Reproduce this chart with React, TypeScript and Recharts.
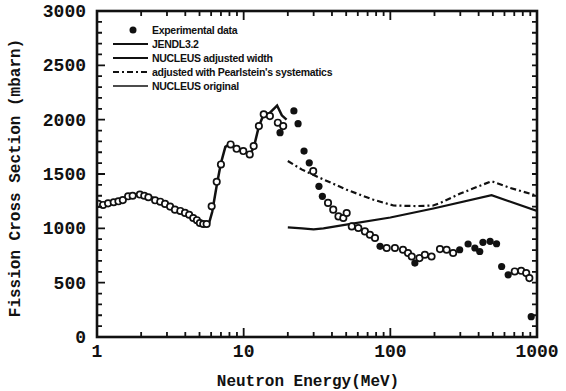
import {
  ComposedChart,
  Line,
  Scatter,
  XAxis,
  YAxis,
  Legend,
} from "recharts";

// Energies in MeV, cross sections in mbarn
const EXP_OPEN = [
  { e: 1.02, s: 1225 }, { e: 1.1, s: 1215 }, { e: 1.19, s: 1230 }, { e: 1.3, s: 1240 },
  { e: 1.4, s: 1249 }, { e: 1.5, s: 1260 }, { e: 1.63, s: 1295 }, { e: 1.75, s: 1300 },
  { e: 1.96, s: 1311 }, { e: 2.1, s: 1300 }, { e: 2.24, s: 1286 }, { e: 2.49, s: 1258 },
  { e: 2.7, s: 1245 }, { e: 2.91, s: 1225 }, { e: 3.15, s: 1200 }, { e: 3.4, s: 1172 },
  { e: 3.7, s: 1160 }, { e: 3.98, s: 1142 }, { e: 4.25, s: 1125 }, { e: 4.53, s: 1095 },
  { e: 4.8, s: 1075 }, { e: 5.03, s: 1049 }, { e: 5.3, s: 1040 }, { e: 5.59, s: 1040 },
  { e: 6.05, s: 1203 }, { e: 6.55, s: 1428 }, { e: 7.0, s: 1588 }, { e: 8.15, s: 1772 },
  { e: 8.95, s: 1732 }, { e: 9.94, s: 1711 }, { e: 11.0, s: 1680 }, { e: 11.7, s: 1757 },
  { e: 12.7, s: 1941 }, { e: 13.7, s: 2049 }, { e: 15.1, s: 2033 }, { e: 17.1, s: 1972 },
  { e: 18.6, s: 1941 }, { e: 29.8, s: 1526 }, { e: 37.6, s: 1234 }, { e: 40.8, s: 1172 },
  { e: 44.3, s: 1110 }, { e: 47.8, s: 1095 }, { e: 50.4, s: 1141 }, { e: 54.6, s: 1018 },
  { e: 60.5, s: 1003 }, { e: 67.1, s: 972 }, { e: 72.6, s: 941 }, { e: 78.6, s: 911 },
  { e: 94.4, s: 819 }, { e: 107.5, s: 819 }, { e: 122, s: 803 }, { e: 132, s: 773 },
  { e: 140, s: 741 }, { e: 158, s: 726 }, { e: 172, s: 757 }, { e: 191, s: 741 },
  { e: 218, s: 809 }, { e: 242, s: 803 }, { e: 268, s: 773 }, { e: 705, s: 603 },
  { e: 780, s: 609 }, { e: 844, s: 588 }, { e: 887, s: 542 },
];

const EXP_FILLED = [
  { e: 17.7, s: 1880 }, { e: 22.0, s: 2080 }, { e: 23.5, s: 1963 }, { e: 25.8, s: 1711 },
  { e: 28.0, s: 1603 }, { e: 32.6, s: 1387 }, { e: 34.4, s: 1295 }, { e: 85.1, s: 834 },
  { e: 147, s: 680 }, { e: 297, s: 803 }, { e: 339, s: 856 }, { e: 377, s: 819 },
  { e: 407, s: 787 }, { e: 428, s: 871 }, { e: 479, s: 880 }, { e: 530, s: 858 },
  { e: 574, s: 649 }, { e: 636, s: 572 }, { e: 913, s: 187 },
];

const JENDL = [
  { e: 1, s: 1215 }, { e: 1.2, s: 1235 }, { e: 1.5, s: 1265 }, { e: 1.9, s: 1310 },
  { e: 2.2, s: 1300 }, { e: 2.6, s: 1265 }, { e: 3, s: 1230 }, { e: 3.5, s: 1175 },
  { e: 4, s: 1145 }, { e: 4.6, s: 1100 }, { e: 5.1, s: 1050 }, { e: 5.4, s: 1035 },
  { e: 5.8, s: 1045 }, { e: 6.1, s: 1150 }, { e: 6.6, s: 1420 }, { e: 7, s: 1600 },
  { e: 7.5, s: 1750 }, { e: 8, s: 1775 }, { e: 9, s: 1740 }, { e: 10, s: 1710 },
  { e: 11, s: 1680 }, { e: 11.7, s: 1740 }, { e: 12.7, s: 1940 }, { e: 13.7, s: 2050 },
  { e: 15, s: 2060 }, { e: 16.9, s: 2130 }, { e: 18.2, s: 2040 }, { e: 19.6, s: 2000 },
];

const PEARLSTEIN = [
  { e: 20, s: 1620 }, { e: 25, s: 1540 }, { e: 30, s: 1490 }, { e: 35, s: 1450 },
  { e: 50, s: 1357 }, { e: 76, s: 1265 }, { e: 105, s: 1210 }, { e: 150, s: 1205 },
  { e: 196, s: 1210 }, { e: 220, s: 1235 }, { e: 300, s: 1320 }, { e: 490, s: 1434 },
  { e: 656, s: 1372 }, { e: 1000, s: 1300 },
];

const NUCLEUS = [
  { e: 20, s: 1009 }, { e: 25, s: 1000 }, { e: 30, s: 990 }, { e: 35, s: 1000 },
  { e: 50, s: 1034 }, { e: 100, s: 1100 }, { e: 200, s: 1185 }, { e: 490, s: 1305 },
  { e: 1000, s: 1160 },
];

const X_MAJOR = [1, 10, 100, 1000];
const X_TICKS = [
  1, 2, 3, 4, 5, 6, 7, 8, 9,
  10, 20, 30, 40, 50, 60, 70, 80, 90,
  100, 200, 300, 400, 500, 600, 700, 800, 900, 1000,
];
const Y_MAJOR = [0, 500, 1000, 1500, 2000, 2500, 3000];
const Y_TICKS = Array.from({ length: 31 }, (_, i) => i * 100);

const LEGEND_ITEMS = [
  { label: "Experimental data", kind: "dot" },
  { label: "JENDL3.2", kind: "solid" },
  { label: "NUCLEUS adjusted width", kind: "solid" },
  { label: "adjusted with Pearlstein's systematics", kind: "dashdot" },
  { label: "NUCLEUS original", kind: "thin" },
];

const MONO = "'Liberation Mono', 'DejaVu Sans Mono', monospace";
const INK = "#111";
const W = 566;
const H = 391;
const MARGIN = { top: 11, right: 29, bottom: 0, left: 0 };
const X_AXIS_H = 54;
const Y_AXIS_W = 97;

// plot box, same numbers the chart layout is built from
const PX0 = MARGIN.left + Y_AXIS_W;
const PX1 = W - MARGIN.right;
const PY0 = MARGIN.top;
const PY1 = H - MARGIN.bottom - X_AXIS_H;
const xPos = (v: number) => PX0 + ((PX1 - PX0) * Math.log10(v)) / 3;
const yPos = (v: number) => PY1 - ((PY1 - PY0) * v) / 3000;

function BottomTick(props: any) {
  const { x, y, payload } = props;
  if (!X_MAJOR.includes(payload.value)) return <g />;
  return (
    <text x={x} y={y + 20} textAnchor="middle" fontFamily={MONO} fontWeight="bold" fontSize={18} fill={INK}>
      {payload.value}
    </text>
  );
}

function LeftTick(props: any) {
  const { x, y, payload } = props;
  if (!Y_MAJOR.includes(payload.value)) return <g />;
  return (
    <text x={x - 11} y={y + 6} textAnchor="end" fontFamily={MONO} fontWeight="bold" fontSize={18} fill={INK}>
      {payload.value}
    </text>
  );
}

// box frame with inward tick marks on all four sides
function Frame() {
  let d = "";
  X_TICKS.forEach((v) => {
    const len = X_MAJOR.includes(v) ? 9 : 5;
    const x = xPos(v);
    d += `M${x},${PY1}V${PY1 - len}M${x},${PY0}V${PY0 + len}`;
  });
  Y_TICKS.forEach((v) => {
    const y = yPos(v);
    d += `M${PX0},${y}H${PX0 + (Y_MAJOR.includes(v) ? 8 : 5)}M${PX1},${y}H${PX1 - 5}`;
  });
  return (
    <svg width={W} height={H} style={{ position: "absolute", left: 0, top: 0, pointerEvents: "none" }}>
      <path d={d} stroke={INK} strokeWidth={1.8} fill="none" />
      <rect x={PX0} y={PY0} width={PX1 - PX0} height={PY1 - PY0} stroke={INK} strokeWidth={2.6} fill="none" />
    </svg>
  );
}

const openCircle = (p: any) => (
  <circle cx={p.cx} cy={p.cy} r={3.2} fill="#fff" stroke={INK} strokeWidth={1.7} />
);
const filledDot = (p: any) => <circle cx={p.cx} cy={p.cy} r={3.6} fill={INK} />;

function LegendBox() {
  return (
    <svg width={280} height={74}>
      {LEGEND_ITEMS.map((item, i) => {
        const y = 8 + i * 14;
        return (
          <g key={item.label}>
            {item.kind === "dot" ? (
              <circle cx={23} cy={y} r={3.5} fill={INK} />
            ) : (
              <path
                d={`M3,${y}H38`}
                stroke={INK}
                strokeWidth={item.kind === "thin" ? 1.6 : 2.2}
                strokeDasharray={item.kind === "dashdot" ? "6 3 2 3" : undefined}
              />
            )}
            <text
              x={42}
              y={y + 4}
              fontFamily="'Liberation Sans', Arial, sans-serif"
              fontWeight="bold"
              fontSize={10.5}
              letterSpacing={-0.3}
              fill={INK}
            >
              {item.label}
            </text>
          </g>
        );
      })}
    </svg>
  );
}

export default function App() {
  return (
    <div style={{ position: "absolute", left: 0, top: 0, width: W, height: H }}>
      <ComposedChart width={W} height={H} margin={MARGIN}>
        <XAxis
          xAxisId="b"
          dataKey="e"
          type="number"
          scale="log"
          domain={[1, 1000]}
          allowDataOverflow
          ticks={X_TICKS}
          interval={0}
          height={X_AXIS_H}
          tickSize={0}
          tickMargin={0}
          tickLine={false}
          tick={<BottomTick />}
          axisLine={false}
          label={{
            value: "Neutron Energy(MeV)",
            position: "insideBottom",
            offset: 5,
            dx: -9,
            style: { fontFamily: MONO, fontWeight: "bold", fontSize: 16, fill: INK },
          }}
        />
        <YAxis
          yAxisId="l"
          dataKey="s"
          type="number"
          domain={[0, 3000]}
          ticks={Y_TICKS}
          interval={0}
          width={Y_AXIS_W}
          tickSize={0}
          tickMargin={0}
          tickLine={false}
          tick={<LeftTick />}
          axisLine={false}
          label={{
            value: "Fission Cross Section (mbarn)",
            angle: -90,
            position: "insideLeft",
            offset: 14,
            dy: 4,
            style: { fontFamily: MONO, fontWeight: "bold", fontSize: 16, fill: INK, textAnchor: "middle" },
          }}
        />
        <Legend
          layout="vertical"
          align="center"
          verticalAlign="middle"
          wrapperStyle={{ left: 110, top: 22, width: 280 }}
          content={() => <LegendBox />}
        />
        <Line xAxisId="b" yAxisId="l" data={JENDL} dataKey="s" type="linear" stroke={INK} strokeWidth={2.5} dot={false} isAnimationActive={false} />
        <Line xAxisId="b" yAxisId="l" data={PEARLSTEIN} dataKey="s" type="linear" stroke={INK} strokeWidth={2.2} strokeDasharray="6 3 2 3" dot={false} isAnimationActive={false} />
        <Line xAxisId="b" yAxisId="l" data={NUCLEUS} dataKey="s" type="linear" stroke={INK} strokeWidth={2.2} dot={false} isAnimationActive={false} />
        <Scatter xAxisId="b" yAxisId="l" data={EXP_OPEN} dataKey="s" shape={openCircle} isAnimationActive={false} />
        <Scatter xAxisId="b" yAxisId="l" data={EXP_FILLED} dataKey="s" shape={filledDot} isAnimationActive={false} />
      </ComposedChart>
      <Frame />
    </div>
  );
}
